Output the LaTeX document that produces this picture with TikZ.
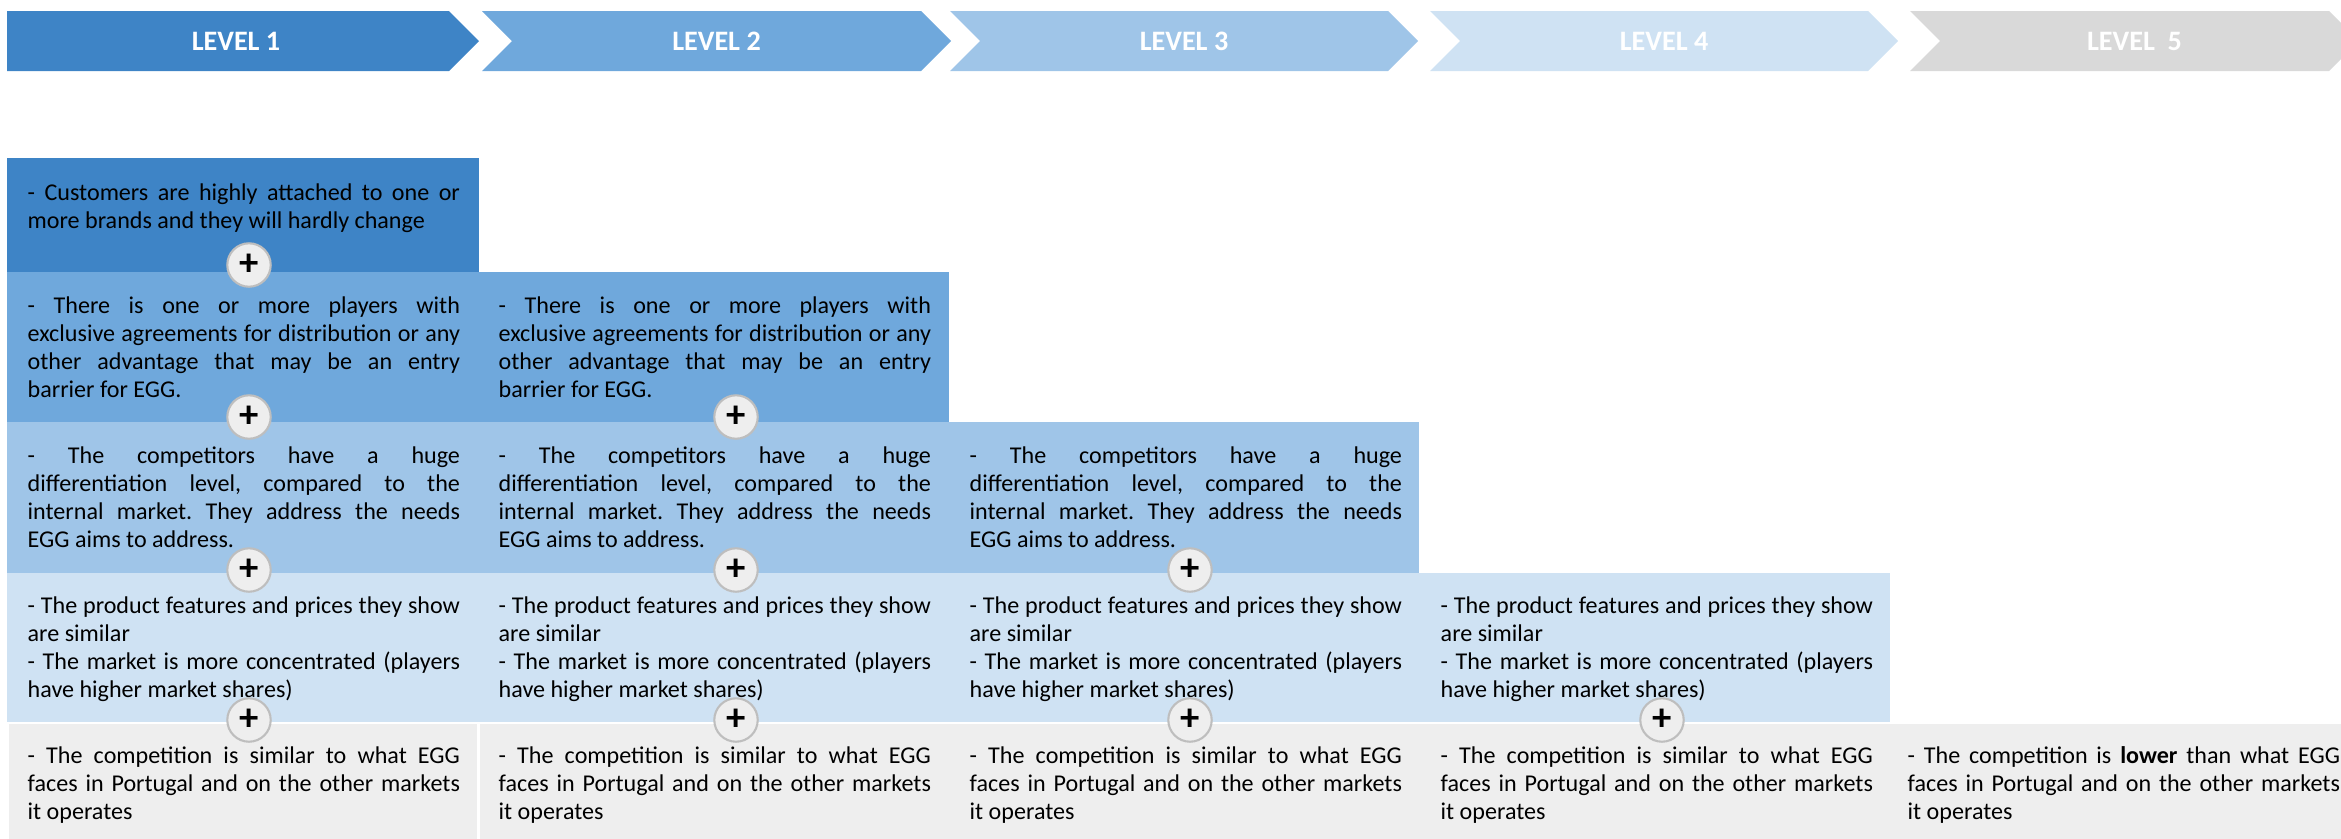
\documentclass[tikz,border=0pt]{standalone}
\usepackage{fontspec}
\setmainfont{Carlito}
\usetikzlibrary{positioning}
\definecolor{lvone}{RGB}{62,132,198}
\definecolor{lvtwo}{RGB}{111,168,220}
\definecolor{lvthree}{RGB}{159,197,232}
\definecolor{lvfour}{RGB}{207,226,243}
\definecolor{lvfive}{RGB}{217,217,217}
\definecolor{lvbase}{RGB}{238,238,238}
\definecolor{ring}{RGB}{190,190,190}
\tikzset{
  lvtitle/.style={text=white,inner sep=0pt,font=\fontsize{8}{8}\selectfont\bfseries},
  cell/.style={anchor=base west,inner sep=0pt,text width=4.32cm,align=justify,
    font=\fontsize{6.85}{7.97}\selectfont},
  plus/.style={circle,fill=lvbase,draw=ring,line width=0.6pt,minimum size=4.34mm,
    inner sep=0pt,font=\fontsize{11}{11}\selectfont\bfseries},
}
\hyphenpenalty=10000
\tolerance=9999
\frenchspacing
\newcommand{\txtbrand}{- Customers are highly attached to one or\linebreak more brands and they will hardly change}
\newcommand{\txtexcl}{- There is one or more players with\linebreak exclusive agreements for distribution or any\linebreak other advantage that may be an entry\linebreak barrier for EGG.}
\newcommand{\txtdiff}{- The competitors have a huge\linebreak differentiation level, compared to the\linebreak internal market. They address the needs\linebreak EGG aims to address.}
\newcommand{\txtprice}{- The product features and prices they show\linebreak are similar\par - The market is more concentrated (players\linebreak have higher market shares)}
\newcommand{\txtsame}{- The competition is similar to what EGG\linebreak faces in Portugal and on the other markets\linebreak it operates}
\newcommand{\txtlower}{- The competition is \textbf{lower} than what EGG\linebreak faces in Portugal and on the other markets\linebreak it operates}

\begin{document}
\begin{tikzpicture}[x=0.01cm,y=-0.01cm]
  \useasboundingbox (0,0) rectangle (2341,839);
  % level arrows
  \foreach \i/\l/\r/\d/\col/\t in {1/7/449/0/lvone/LEVEL 1, 2/482/921/30/lvtwo/LEVEL 2,
    3/950/1388/30/lvthree/LEVEL 3, 4/1430/1868/30/lvfour/LEVEL 4, 5/1910/2329/30/lvfive/LEVEL\ \ 5}
  {
    \fill[\col] (\l,11) -- (\r,11) -- (\r+30,41) -- (\r,71) -- (\l,71) -- (\l+\d,41) -- cycle;
    \node[lvtitle] (lvl\i) at ({(\l+\r+30)/2-7+7*\d/30},41) {\t};
  }
  % rows
  \foreach \col/\w/\a/\b in {lvone/479/158/272, lvtwo/949/272/422, lvthree/1419/422/573, lvfour/1890/573/722}
    \fill[\col] (7,\a) rectangle (\w,\b);
  \fill[lvbase] (9,724) rectangle (477,839);
  \fill[lvbase] (480,724) rectangle (2341,839);
  \foreach \r/\y/\n/\t in {1/200/1/\txtbrand, 2/313/2/\txtexcl, 3/463/3/\txtdiff, 4/613/4/\txtprice, 5/763/4/\txtsame}
    \foreach \k in {1,...,\n}
      \node[cell] (t\r\k) at ({27+471*(\k-1)},\y) {\t};
  \node[cell] (t55) at (1907,763) {\txtlower};
  % plus signs
  \foreach \k/\x in {1/249, 2/736, 3/1190, 4/1662}
    \foreach \b/\y in {1/265, 2/417, 3/570, 4/720}
      {\ifnum\b<\k\else\node[plus] (p\k\b) at (\x,\y) {+};\fi}
\end{tikzpicture}
\end{document}
